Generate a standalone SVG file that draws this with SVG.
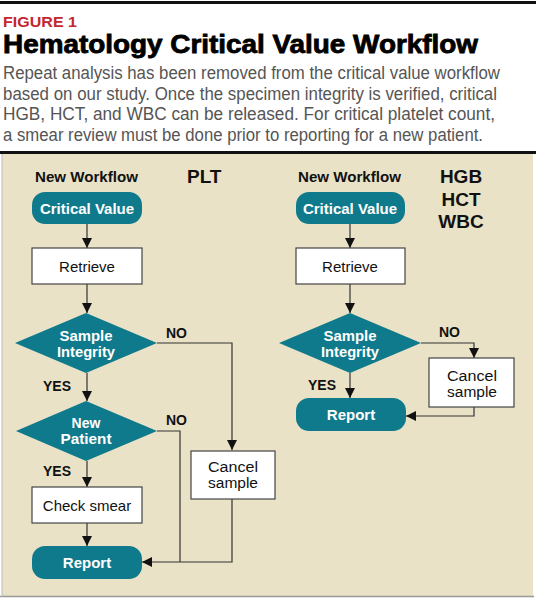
<svg xmlns="http://www.w3.org/2000/svg" width="536" height="600" viewBox="0 0 536 600">
<defs>
<marker id="ah" viewBox="0 0 10 10" refX="10" refY="5" markerWidth="10" markerHeight="10" markerUnits="userSpaceOnUse" orient="auto">
<path d="M0,0 L10,5 L0,10 Z" fill="#111"/>
</marker>
</defs>
<style>
.t{font-family:"Liberation Sans",Arial,sans-serif}
.pill{fill:#0f7a8b}
.box{fill:#fff;stroke:#444;stroke-width:1.2}
.dia{fill:#0f7a8b}
.wt{font-family:"Liberation Sans",Arial,sans-serif;font-weight:bold;font-size:15px;fill:#fff;text-anchor:middle}
.wt2{font-family:"Liberation Sans",Arial,sans-serif;font-weight:bold;font-size:14px;fill:#fff;text-anchor:middle}
.bt{font-family:"Liberation Sans",Arial,sans-serif;font-size:15px;fill:#111;text-anchor:middle}
.bt2{font-family:"Liberation Sans",Arial,sans-serif;font-size:14px;fill:#111;text-anchor:middle}
.lab{font-family:"Liberation Sans",Arial,sans-serif;font-weight:bold;font-size:14px;fill:#111}
.hd{font-family:"Liberation Sans",Arial,sans-serif;font-weight:bold;font-size:19px;fill:#111}
.c{fill:none;stroke:#333;stroke-width:1.2}
</style>
<rect x="0" y="0" width="536" height="600" fill="#fff"/>
<rect x="0" y="1" width="536" height="3" fill="#111"/>
<text class="t" x="3" y="27" font-size="15.5" font-weight="bold" fill="#c4262e" textLength="74" lengthAdjust="spacingAndGlyphs">FIGURE 1</text>
<text class="t" x="3" y="53" font-size="25" font-weight="bold" fill="#000" stroke="#000" stroke-width="0.8" textLength="475" lengthAdjust="spacingAndGlyphs">Hematology Critical Value Workflow</text>
<g class="t" font-size="17.5" fill="#555">
<text x="3" y="79" textLength="497" lengthAdjust="spacingAndGlyphs">Repeat analysis has been removed from the critical value workflow</text>
<text x="3" y="100" textLength="494" lengthAdjust="spacingAndGlyphs">based on our study. Once the specimen integrity is verified, critical</text>
<text x="3" y="120" textLength="492" lengthAdjust="spacingAndGlyphs">HGB, HCT, and WBC can be released. For critical platelet count,</text>
<text x="3" y="141" textLength="480" lengthAdjust="spacingAndGlyphs">a smear review must be done prior to reporting for a new patient.</text>
</g>
<rect x="0" y="151" width="536" height="3" fill="#111"/>
<rect x="2" y="154" width="531" height="442" fill="#e9e2c7"/>
<line x1="0" y1="596.5" x2="534" y2="596.5" stroke="#999" stroke-width="1.5"/>
<line x1="2" y1="154" x2="2" y2="597" stroke="#bbb" stroke-width="1"/>

<g id="connectors">
<line class="c" x1="87" y1="224" x2="87" y2="248" marker-end="url(#ah)"/>
<line class="c" x1="87" y1="284" x2="87" y2="313" marker-end="url(#ah)"/>
<line class="c" x1="87" y1="373" x2="87" y2="401" marker-end="url(#ah)"/>
<polyline class="c" points="157,343 232,343 232,450" marker-end="url(#ah)"/>
<line class="c" x1="87" y1="461" x2="87" y2="487" marker-end="url(#ah)"/>
<line class="c" x1="87" y1="523" x2="87" y2="546" marker-end="url(#ah)"/>
<polyline class="c" points="157,431 180,431 180,562"/>
<polyline class="c" points="232,499 232,562 142,562" marker-end="url(#ah)"/>
<line class="c" x1="350" y1="224" x2="350" y2="248" marker-end="url(#ah)"/>
<line class="c" x1="350" y1="284" x2="350" y2="313" marker-end="url(#ah)"/>
<polyline class="c" points="421,343 474,343 474,358" marker-end="url(#ah)"/>
<line class="c" x1="350" y1="373" x2="350" y2="398" marker-end="url(#ah)"/>
<polyline class="c" points="474,407 474,416 406,416" marker-end="url(#ah)"/>
</g>

<g id="labels">
<text class="lab" x="35" y="182" textLength="103" lengthAdjust="spacingAndGlyphs">New Workflow</text>
<text class="hd" x="187" y="183">PLT</text>
<text class="lab" x="298" y="182" textLength="103" lengthAdjust="spacingAndGlyphs">New Workflow</text>
<text class="hd" x="461" y="183" text-anchor="middle">HGB</text>
<text class="hd" x="461" y="206" text-anchor="middle">HCT</text>
<text class="hd" x="461" y="228" text-anchor="middle">WBC</text>
<text class="lab" x="166" y="338">NO</text>
<text class="lab" x="43" y="391">YES</text>
<text class="lab" x="166" y="425">NO</text>
<text class="lab" x="43" y="476">YES</text>
<text class="lab" x="439" y="337">NO</text>
<text class="lab" x="308" y="390">YES</text>
</g>

<g id="L-critical">
<rect class="pill" x="32" y="192" width="110" height="32" rx="13"/>
<text class="wt" x="87" y="214">Critical Value</text>
</g>
<g id="L-retrieve">
<rect class="box" x="32" y="248" width="110" height="36"/>
<text class="bt" x="87" y="272">Retrieve</text>
</g>
<g id="L-integrity">
<polygon class="dia" points="86,313 157,343 86,373 15,343"/>
<text class="wt2" x="86" y="341" textLength="53" lengthAdjust="spacingAndGlyphs">Sample</text>
<text class="wt2" x="86" y="357" textLength="58" lengthAdjust="spacingAndGlyphs">Integrity</text>
</g>
<g id="L-newpatient">
<polygon class="dia" points="86,401 157,431 86,461 16,431"/>
<text class="wt2" x="86" y="428">New</text>
<text class="wt2" x="86" y="444" textLength="51" lengthAdjust="spacingAndGlyphs">Patient</text>
</g>
<g id="L-smear">
<rect class="box" x="32" y="487" width="110" height="36"/>
<text class="bt" x="87" y="511">Check smear</text>
</g>
<g id="L-report">
<rect class="pill" x="32" y="546" width="110" height="33" rx="13"/>
<text class="wt" x="87" y="568">Report</text>
</g>
<g id="L-cancel">
<rect class="box" x="191" y="451" width="84" height="48"/>
<text class="bt2" x="233" y="472" textLength="50" lengthAdjust="spacingAndGlyphs">Cancel</text>
<text class="bt2" x="233" y="488" textLength="50" lengthAdjust="spacingAndGlyphs">sample</text>
</g>

<g id="R-critical">
<rect class="pill" x="296" y="192" width="109" height="32" rx="13"/>
<text class="wt" x="350" y="214">Critical Value</text>
</g>
<g id="R-retrieve">
<rect class="box" x="296" y="248" width="109" height="36"/>
<text class="bt" x="350" y="272">Retrieve</text>
</g>
<g id="R-integrity">
<polygon class="dia" points="350,313 421,343 350,373 279,343"/>
<text class="wt2" x="350" y="341" textLength="53" lengthAdjust="spacingAndGlyphs">Sample</text>
<text class="wt2" x="350" y="357" textLength="58" lengthAdjust="spacingAndGlyphs">Integrity</text>
</g>
<g id="R-cancel">
<rect class="box" x="429" y="358" width="85" height="49"/>
<text class="bt2" x="472" y="381" textLength="50" lengthAdjust="spacingAndGlyphs">Cancel</text>
<text class="bt2" x="472" y="397" textLength="50" lengthAdjust="spacingAndGlyphs">sample</text>
</g>
<g id="R-report">
<rect class="pill" x="296" y="398" width="110" height="33" rx="13"/>
<text class="wt" x="351" y="420">Report</text>
</g>
</svg>
